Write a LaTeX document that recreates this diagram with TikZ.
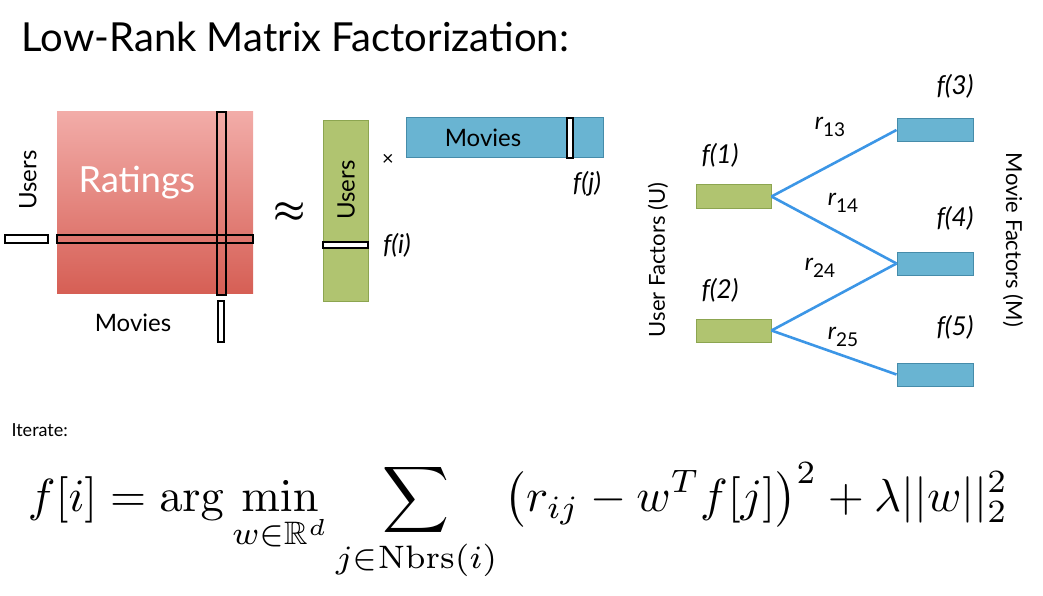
\documentclass[tikz,border=0pt]{standalone}
\usepackage{amsmath,amssymb,bm}
\usepackage[no-math]{fontspec}
\setmainfont{Lato}
\newcommand{\rsub}[1]{\itshape r\raisebox{-7pt}{\upshape\fontsize{19}{22}\selectfont #1}}
\begin{document}
\begin{tikzpicture}[x=1pt,y=-1pt,
  hbar/.style={draw=black,line width=1.3pt,fill=white},
  obar/.style={draw=black,line width=1.3pt},
  grn/.style={draw={rgb,255:red,140;green,165;blue,80},fill={rgb,255:red,176;green,196;blue,112},line width=1pt},
  blu/.style={draw={rgb,255:red,70;green,140;blue,170},fill={rgb,255:red,105;green,180;blue,210},line width=1pt},
  edge/.style={draw={rgb,255:red,60;green,150;blue,230},line width=2.6pt},
  lab/.style={font=\fontsize{26}{30}\selectfont\itshape},
  rl/.style={font=\fontsize{24}{28}\selectfont}]
\useasboundingbox (0,0) rectangle (1043,596);
\node[anchor=base west,font=\fontsize{40}{46}\selectfont] (title) at (18,52) {Low-Rank Matrix Factorization:};
% ratings
\shade[top color={rgb,255:red,242;green,172;blue,168},bottom color={rgb,255:red,214;green,95;blue,85}] (57,112) rectangle (253,293);
\node[text=white,font=\fontsize{36}{40}\selectfont] (rat) at (137,183) {Ratings};
\draw[obar] (217,112) rectangle (226,295);
\draw[obar] (57,235) rectangle (253,243);
\draw[hbar] (5,235) rectangle (48,243);
\draw[hbar] (218,301) rectangle (224,342);
\node[rotate=90,font=\fontsize{24}{28}\selectfont] (u1) at (28,180) {Users};
\node[font=\fontsize{24}{28}\selectfont] (m1) at (133,323) {Movies};
\node (approx) at (290,212) {\scalebox{3.6}{$\bm{\approx}$}};
% factors
\draw[grn] (323,121) rectangle (368,301);
\node[rotate=90,font=\fontsize{24}{28}\selectfont] (u2) at (346,190) {Users};
\draw[hbar] (323,242) rectangle (368,248);
\node[lab] (fi) at (397,245) {f(i)};
\node[font=\fontsize{20}{24}\selectfont] (times) at (388,160) {×};
\draw[blu] (406,118) rectangle (603,158);
\node[font=\fontsize{24}{28}\selectfont] (m2) at (483,138) {Movies};
\draw[hbar] (567,118) rectangle (573,158);
\node[lab] (fj) at (587,184) {f(j)};
% graph
\node[grn,minimum width=75pt,minimum height=23pt,inner sep=0] (f1) at (733.5,196.5) {};
\node[grn,minimum width=75pt,minimum height=23pt,inner sep=0] (f2) at (733.5,330.5) {};
\node[blu,minimum width=76pt,minimum height=23pt,inner sep=0] (f3) at (935,130) {};
\node[blu,minimum width=76pt,minimum height=23pt,inner sep=0] (f4) at (935,263.5) {};
\node[blu,minimum width=76pt,minimum height=23pt,inner sep=0] (f5) at (935,374.5) {};
\draw[edge] (f1.east) -- (f3.west);
\draw[edge] (f1.east) -- (f4.west);
\draw[edge] (f2.east) -- (f4.west);
\draw[edge] (f2.east) -- (f5.west);
\node[lab] (l1) at (720,155) {f(1)};
\node[lab] (l2) at (720,290) {f(2)};
\node[lab] (l3) at (955,86) {f(3)};
\node[lab] (l4) at (955,218) {f(4)};
\node[lab] (l5) at (955,327) {f(5)};
\node[rl] (r13) at (830,127) {\rsub{13}};
\node[rl] (r14) at (843,203) {\rsub{14}};
\node[rl] (r24) at (820,268) {\rsub{24}};
\node[rl] (r25) at (843,337) {\rsub{25}};
\node[rotate=90,font=\fontsize{22}{26}\selectfont] (uf) at (658,260) {User Factors (U)};
\node[rotate=-90,font=\fontsize{22}{26}\selectfont] (mf) at (1013,240) {Movie Factors (M)};
\node[anchor=base west,font=\fontsize{18}{22}\selectfont] (it) at (8,436) {Iterate:};
\node[inner sep=0] (eq) at (518,522) {\resizebox{980pt}{!}{$\displaystyle f[i]=\arg\min_{w\in\mathbb{R}^d}\sum_{j\in\mathrm{Nbrs}(i)}\big(r_{ij}-w^Tf[j]\big)^2+\lambda||w||_2^2$}};
\end{tikzpicture}
\end{document}
